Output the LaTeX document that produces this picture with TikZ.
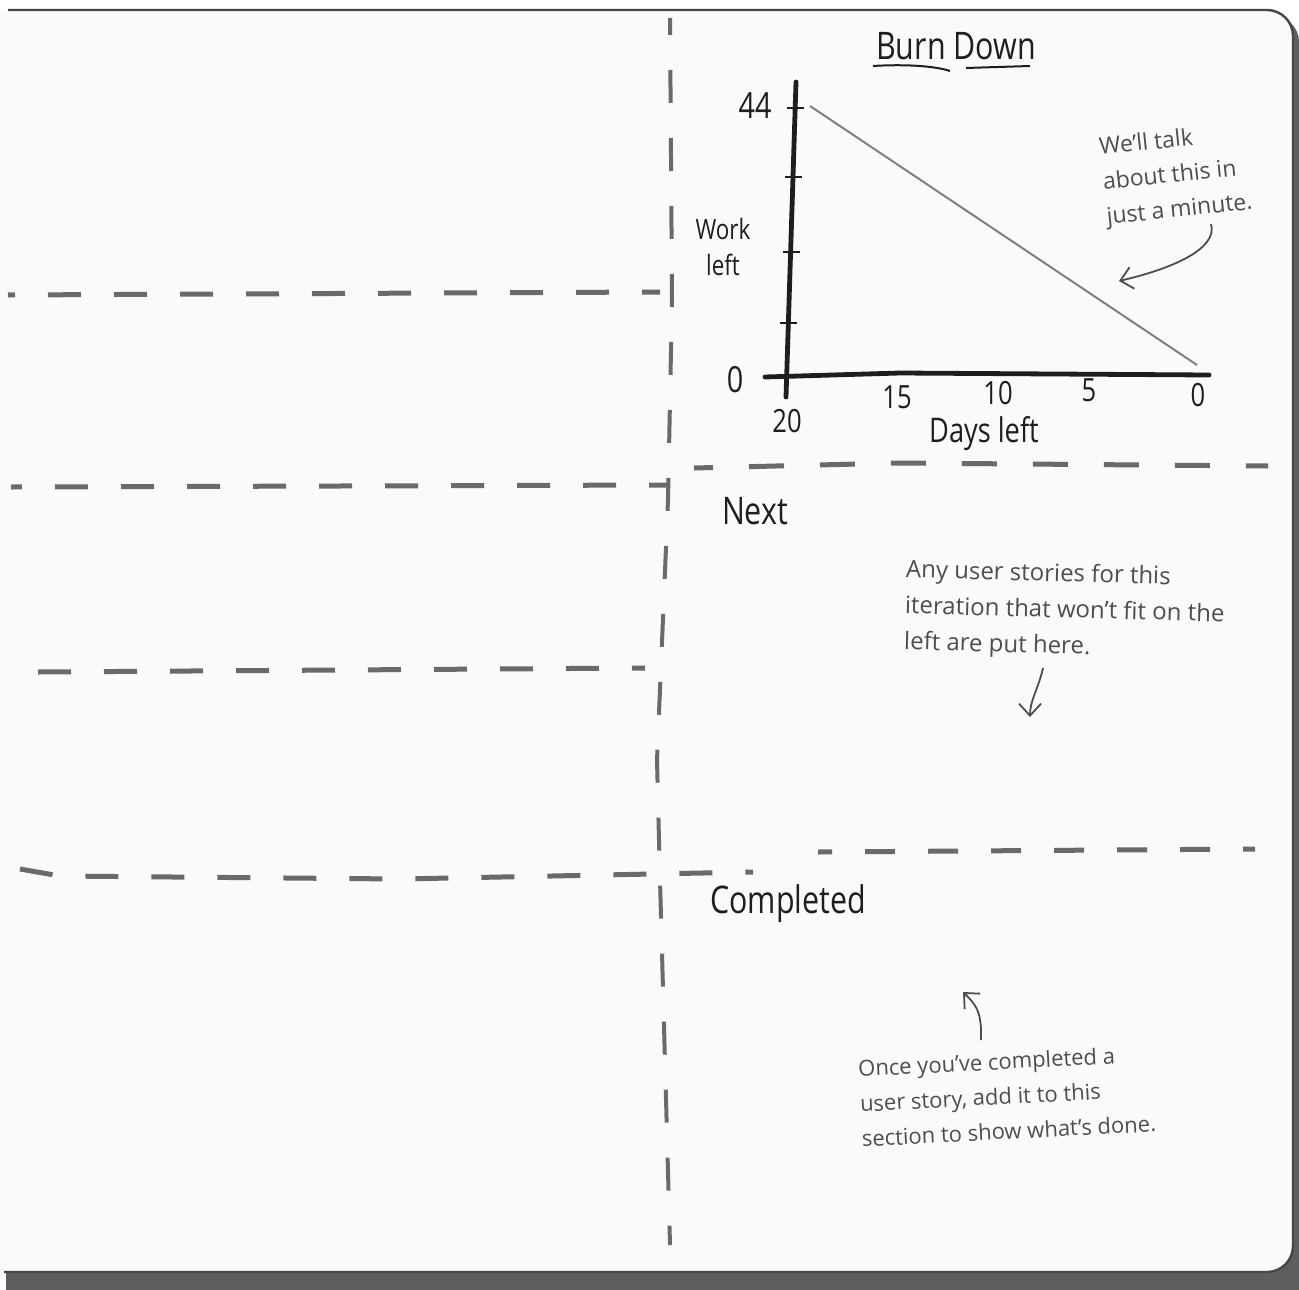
\documentclass[tikz,border=0pt]{standalone}
\usepackage{fontspec}
\setmainfont{Open Sans}
\newfontfamily\narrowhand{Open Sans}[FakeStretch=0.8]
\usetikzlibrary{arrows.meta}

\definecolor{boardgray}{HTML}{FAFAFA}
\definecolor{shadowgray}{HTML}{5E5E5E}
\definecolor{framegray}{HTML}{474747}
\definecolor{dashgray}{HTML}{6A6A6A}
\definecolor{inkblack}{HTML}{1E1E1E}
\definecolor{pencilgray}{HTML}{4E4E4E}

\tikzset{
  divider/.style={dashgray, line width=2.5pt, dash pattern=on 16.5pt off 16.5pt},
  heading/.style={inkblack, font=\narrowhand\fontsize{19}{21}\selectfont},
  axisline/.style={inkblack, line width=2.4pt, line cap=round},
  tickmark/.style={inkblack, line width=1.1pt},
  axisnum/.style={inkblack, font=\narrowhand\fontsize{16}{18}\selectfont},
  burnline/.style={gray, line width=1pt},
  remark/.style={pencilgray, align=left, font=\fontsize{11.5}{17.5}\selectfont},
  remarkarrow/.style={pencilgray, line width=0.9pt, -{Straight Barb[length=6pt,width=11pt]}}
}

\begin{document}
\begin{tikzpicture}[x=0.5pt, y=-0.5pt]
    \useasboundingbox (0,0) rectangle (1299,1289);
    \clip (0,0) rectangle (1299,1289);
    \fill[white] (0,0) rectangle (1299,1289);

    % Le tableau et son ombre
    \fill[shadowgray, rounded corners=13pt] (6,16) rectangle (1299,1330);
    \fill[boardgray, rounded corners=13pt] (-40,10) rectangle (1293,1272);
    \draw[framegray, line width=1.2pt, rounded corners=13pt] (8,10) -- (1293,10) -- (1293,1272) -- (4,1272);

    % Separations en pointilles
    \draw[divider, dash pattern=on 16.5pt off 17.5pt, dash phase=8pt, line width=2pt]
        (670,18) -- (672,300) -- (668,500) -- (657,760) -- (660,880) -- (670,1245);
    \draw[divider, dash phase=13pt] (8,295) -- (660,292);
    \draw[divider, dash phase=11pt] (11,487) -- (668,485);
    \draw[divider, dash pattern=on 17.5pt off 18pt, dash phase=8pt] (694,468) -- (900,463) -- (1268,466);
    \draw[divider] (38,672) -- (645,668);
    \draw[divider] (20,869) -- (60,876) -- (400,879) -- (753,872);
    \draw[divider, dash pattern=on 15pt off 16.5pt, dash phase=8pt] (818,852) -- (1255,849);

    % Titres des zones
    \node[heading] (burnTitle) at (956,46) {Burn Down};
    \draw[inkblack, line width=1pt] (873,66) .. controls (905,64) and (935,66) .. (950,71);
    \draw[inkblack, line width=1pt] (966,68) -- (1030,66);
    \node[heading] (nextTitle) at (755,511) {Next};
    \node[heading] (doneTitle) at (788,904) {Completed};

    % Les axes du graphique
    \coordinate (yTop) at (796,82);
    \coordinate (yBottom) at (786,397);
    \coordinate (xLeft) at (765,377);
    \coordinate (xRight) at (1209,375);
    \draw[axisline] (yTop) -- (yBottom);
    \draw[axisline] (xLeft) -- (900,373) -- (xRight);

    % Graduations
    \draw[tickmark] (787,108) -- (804,108);
    \draw[tickmark] (785,177) -- (802,177);
    \draw[tickmark] (783,252) -- (800,252);
    \draw[tickmark] (780,323) -- (797,323);

    % Valeurs et legendes
    \node[axisnum, font=\narrowhand\fontsize{18}{20}\selectfont] (work44) at (755,106) {44};
    \node[axisnum, font=\narrowhand\fontsize{18}{20}\selectfont] (work0) at (735,380) {0};
    \node[axisnum] (days20) at (787,421) {20};
    \node[axisnum] (days15) at (897,397) {15};
    \node[axisnum] (days10) at (998,393) {10};
    \node[axisnum] (days5) at (1089,390) {5};
    \node[axisnum] (days0) at (1198,395) {0};
    \node[axisnum, align=center, font=\narrowhand\fontsize{14}{17.5}\selectfont] (workLabel) at (723,247) {Work\\left};
    \node[axisnum, font=\narrowhand\fontsize{17}{19}\selectfont] (daysLabel) at (984,434) {Days left};

    % La droite de burn down
    \coordinate (burnStart) at (810,106);
    \coordinate (burnEnd) at (1197,365);
    \draw[burnline] (burnStart) -- (burnEnd);

    % Notes et fleches
    \node[remark, rotate=6] (talkNote) at (1176,176) {We'll talk\\about this in\\just a minute.};
    \coordinate (talkTail) at (1211,224);
    \coordinate (talkHead) at (1119,281);
    \draw[remarkarrow] (talkTail) .. controls (1218,248) and (1175,268) .. (talkHead);

    \node[remark, anchor=west, rotate=-1.5, font=\fontsize{12}{18}\selectfont] (nextNote) at (898,607)
        {Any user stories for this\\iteration that won't fit on the\\left are put here.};
    \coordinate (nextTail) at (1043,668);
    \coordinate (nextHead) at (1030,717);
    \draw[remarkarrow] (nextTail) .. controls (1038,690) and (1030,700) .. (nextHead);

    \node[remark, anchor=west, rotate=3, font=\fontsize{11}{17.5}\selectfont] (doneNote) at (853,1104)
        {Once you've completed a\\user story, add it to this\\section to show what's done.};
    \coordinate (doneTail) at (981,1040);
    \coordinate (doneHead) at (963,992);
    \draw[remarkarrow] (doneTail) .. controls (982,1010) and (975,1004) .. (doneHead);
\end{tikzpicture}
\end{document}
